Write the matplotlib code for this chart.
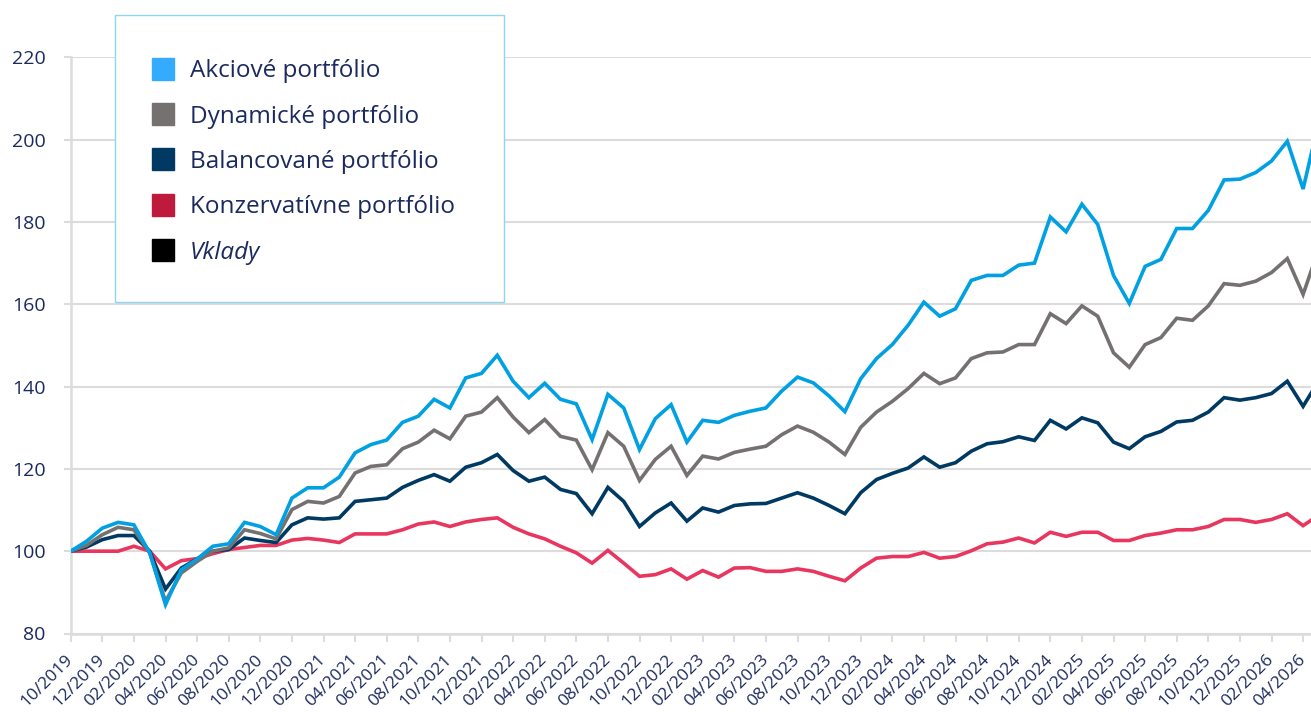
import numpy as np
import pandas as pd
import matplotlib
matplotlib.use("Agg")
import matplotlib.pyplot as plt
from matplotlib.lines import Line2D
from matplotlib.patches import Rectangle

plt.rcParams['font.family'] = ['Open Sans', 'DejaVu Sans']

# monthly index values, start 10/2019 = 100
akciove = [100, 102.4, 105.6, 107.0, 106.4, 99.6, 87.0, 95.5, 98.1, 101.2,
           101.8, 107.0, 106.0, 104.0, 112.9, 115.4, 115.4, 118.0, 123.9, 125.9,
           127.0, 131.3, 132.8, 136.9, 134.8, 142.1, 143.2, 147.6, 141.3, 137.3,
           140.8, 136.9, 135.8, 127.1, 138.1, 134.8, 124.7, 132.2, 135.6, 126.5,
           131.8, 131.3, 133.0, 134.0, 134.8, 138.9, 142.3, 140.9, 137.7, 133.9,
           141.9, 146.8, 150.2, 154.9, 160.5, 157.1, 158.9, 165.8, 167.0, 167.0,
           169.5, 170.0, 181.2, 177.6, 184.3, 179.4, 167.0, 160.2, 169.2, 170.9,
           178.4, 178.4, 182.8, 190.2, 190.4, 192.0, 194.8, 199.6, 188.0, 204.5]

dynamicke = [100, 101.4, 104.0, 105.8, 105.2, 99.6, 87.8, 94.7, 97.5, 100.0,
             100.8, 105.2, 104.3, 103.0, 110.1, 112.1, 111.7, 113.3, 119.0, 120.6,
             121.0, 124.9, 126.5, 129.4, 127.3, 132.8, 133.8, 137.3, 132.6, 128.8,
             132.0, 127.9, 127.0, 119.8, 128.8, 125.5, 117.2, 122.3, 125.5, 118.4,
             123.1, 122.4, 124.0, 124.8, 125.5, 128.3, 130.4, 128.9, 126.5, 123.5,
             130.1, 133.8, 136.4, 139.5, 143.2, 140.7, 142.1, 146.8, 148.2, 148.4,
             150.2, 150.2, 157.7, 155.3, 159.6, 157.1, 148.2, 144.7, 150.2, 151.9,
             156.6, 156.1, 159.6, 165.0, 164.6, 165.6, 167.7, 171.1, 162.4, 173.5]

balancovane = [100, 101.0, 102.8, 103.8, 103.8, 100.0, 90.8, 95.9, 98.1, 100.0,
               100.4, 103.2, 102.6, 102.1, 106.4, 108.1, 107.8, 108.1, 112.1, 112.5,
               112.9, 115.5, 117.2, 118.6, 117.0, 120.4, 121.5, 123.5, 119.6, 117.0,
               118.0, 115.0, 114.0, 109.1, 115.5, 112.1, 106.0, 109.3, 111.7, 107.3,
               110.5, 109.5, 111.1, 111.5, 111.6, 112.9, 114.2, 112.9, 111.1, 109.1,
               114.2, 117.4, 118.9, 120.2, 122.9, 120.4, 121.5, 124.3, 126.1, 126.6,
               127.8, 126.9, 131.8, 129.7, 132.4, 131.2, 126.5, 124.9, 127.8, 129.1,
               131.4, 131.8, 133.8, 137.3, 136.7, 137.3, 138.3, 141.3, 135.2, 141.5]

konzervativne = [100, 100.0, 100.0, 100.0, 101.2, 100.0, 95.7, 97.7, 98.2, 99.4,
                 100.4, 100.9, 101.4, 101.4, 102.7, 103.1, 102.7, 102.1, 104.2, 104.2,
                 104.2, 105.2, 106.6, 107.1, 106.0, 107.1, 107.7, 108.1, 105.8, 104.2,
                 103.0, 101.2, 99.6, 97.1, 100.2, 97.1, 93.9, 94.3, 95.7, 93.2,
                 95.3, 93.7, 95.9, 96.0, 95.1, 95.1, 95.7, 95.1, 93.9, 92.8,
                 95.9, 98.3, 98.7, 98.7, 99.7, 98.3, 98.7, 100.1, 101.8, 102.2,
                 103.2, 102.0, 104.6, 103.6, 104.6, 104.6, 102.6, 102.6, 103.8, 104.4,
                 105.2, 105.2, 106.0, 107.7, 107.7, 107.0, 107.7, 109.1, 106.2, 108.8]

months = pd.date_range('2019-10-01', periods=len(akciove), freq='MS')
tick_idx = np.arange(0, 79, 2)
tick_labels = [months[i].strftime('%m/%Y') for i in tick_idx]

names = ['Akciové portfólio', 'Dynamické portfólio', 'Balancované portfólio',
         'Konzervatívne portfólio', 'Vklady']
line_colors = ['#00A0E2', '#767171', '#003A63', '#E8365F']
legend_colors = ['#35ABFF', '#767171', '#003A63', '#BE1A3C', '#000000']

text_col = '#1B2A5E'
grid_col = '#DCDCDC'

fig = plt.figure(figsize=(13.11, 7.12), dpi=100)
ax = fig.add_axes([70.7 / 1311, 78.5 / 712, (1311 - 70.7) / 1311, (633.5 - 57.3) / 712])

x = np.arange(len(akciove))
series = [akciove, dynamicke, balancovane, konzervativne]
for vals, col in zip(series[::-1], line_colors[::-1]):
    ax.plot(x, vals, color=col, lw=2.6, solid_joinstyle='miter', zorder=3)

ax.set_xlim(0, 78.5)
ax.set_ylim(80, 220)
ax.set_yticks(np.arange(80, 221, 20))
ax.set_xticks(tick_idx)
ax.set_xticklabels(tick_labels, rotation=45, ha='right', va='center',
                   rotation_mode='anchor', fontsize=12.5, color=text_col)
ax.tick_params(axis='y', length=5, width=1.5, color=grid_col, pad=13,
               labelsize=14, labelcolor=text_col)
ax.tick_params(axis='x', length=6, width=1.5, color=grid_col, pad=11)

ax.grid(axis='y', color=grid_col, lw=1.5, zorder=0)
ax.set_axisbelow(True)
for s in ['top', 'right']:
    ax.spines[s].set_visible(False)
for s in ['left', 'bottom']:
    ax.spines[s].set_color(grid_col)
    ax.spines[s].set_linewidth(1.8)

# legend box
fig.patches.append(Rectangle((115.3 / 1311, 1 - 302.3 / 712), (504 - 115.3) / 1311,
                             (302.3 - 14.7) / 712, transform=fig.transFigure,
                             facecolor='white', edgecolor='#8FD4F2', lw=1.0, zorder=5))
handles = [Line2D([], [], ls='none', marker='s', markersize=16.5,
                  markerfacecolor=c, markeredgecolor=c) for c in legend_colors]
leg = fig.legend(handles, names, loc='upper left',
                 bbox_to_anchor=(137.5 / 1311, 1 - 47 / 712), frameon=False,
                 fontsize=17.5, labelcolor=text_col, labelspacing=0.88,
                 handletextpad=0.55, borderpad=0, handlelength=1.1)
leg.set_zorder(6)
leg.get_texts()[4].set_fontstyle('italic')

fig.savefig('out.png', dpi=100)
